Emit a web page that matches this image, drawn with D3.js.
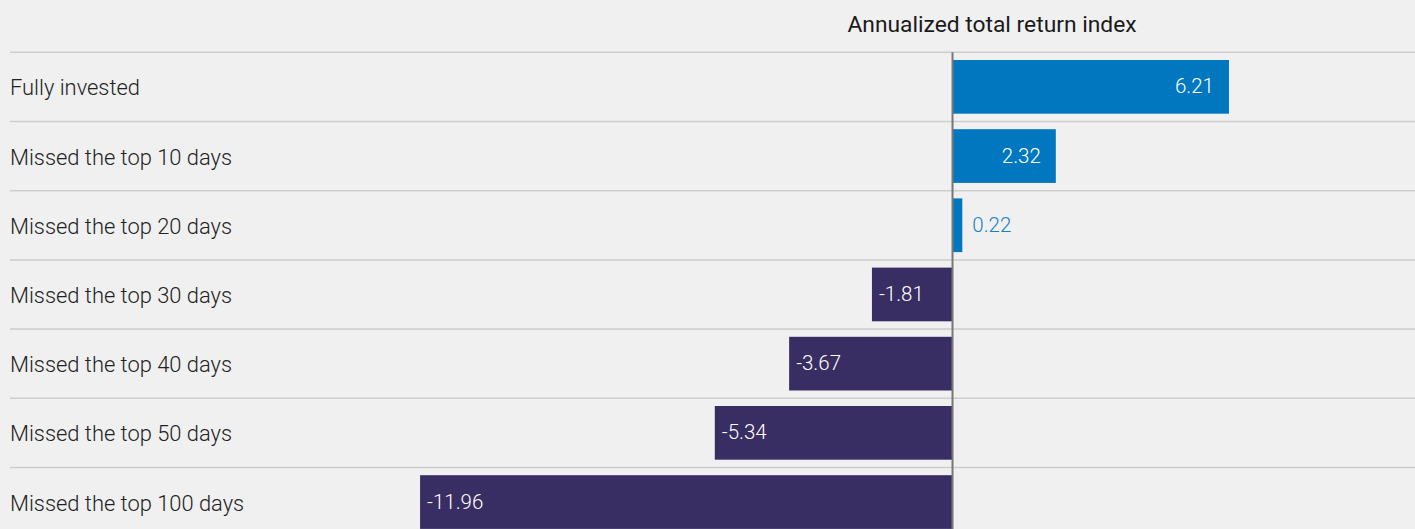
<!DOCTYPE html>
<html>
<head>
<meta charset="utf-8">
<script src="https://cdn.jsdelivr.net/npm/d3@7"></script>
<style>
  html, body { margin: 0; padding: 0; background: #f0f0f0; }
  svg { display: block; font-family: Roboto, "Liberation Sans", Arial, sans-serif; font-weight: 300; }
</style>
</head>
<body>
<svg id="chart"></svg>
<script>
const categories = [
    'Fully invested',
    'Missed the top 10 days',
    'Missed the top 20 days',
    'Missed the top 30 days',
    'Missed the top 40 days',
    'Missed the top 50 days',
    'Missed the top 100 days'
];
const returns = [6.21, 2.32, 0.22, -1.81, -3.67, -5.34, -11.96];
const axisTitle = 'Annualized total return index';

const width = 1415, height = 529;
const svg = d3.select('#chart').attr('width', width).attr('height', height);

svg.append('rect').attr('width', width).attr('height', height).attr('fill', '#f0f0f0');

const data = categories.map((c, i) => ({ label: c, value: returns[i] }));

const x = d3.scaleLinear().domain([-12, 10]).range([418.3, 1397.7]);
const y = d3.scaleBand().domain(categories).range([52.3, 52.3 + 69.2 * categories.length]);

// title
svg.append('text')
    .attr('x', 992)
    .attr('y', 32)
    .attr('text-anchor', 'middle')
    .attr('font-size', 22.8)
    .attr('font-weight', 400)
    .attr('fill', '#1a1a1a')
    .text(axisTitle);

// row separators
svg.selectAll('.sep')
    .data(categories)
    .join('line')
    .attr('class', 'sep')
    .attr('x1', 10).attr('x2', width)
    .attr('y1', d => y(d)).attr('y2', d => y(d))
    .attr('stroke', '#cdcdcd')
    .attr('stroke-width', 1.5);

// category labels
svg.selectAll('.cat')
    .data(data)
    .join('text')
    .attr('class', 'cat')
    .attr('x', 10)
    .attr('y', d => y(d.label) + y.bandwidth() / 2 + 8.5)
    .attr('font-size', 21.9)
    .attr('fill', '#222')
    .text(d => d.label);

// bars
const barTop = 7.7, barPad = 15.5;
svg.selectAll('.bar')
    .data(data)
    .join('rect')
    .attr('class', 'bar')
    .attr('x', d => x(Math.min(0, d.value)))
    .attr('width', d => Math.abs(x(d.value) - x(0)))
    .attr('y', d => y(d.label) + barTop)
    .attr('height', y.bandwidth() - barPad)
    .attr('fill', d => d.value >= 0 ? '#0077be' : '#392e63');

// zero line
svg.append('line')
    .attr('x1', x(0)).attr('x2', x(0))
    .attr('y1', y.range()[0]).attr('y2', height)
    .attr('stroke', '#777')
    .attr('stroke-width', 2);

// value labels
const inside = d => d.value < 0 || Math.abs(x(d.value) - x(0)) >= 60;
svg.selectAll('.val')
    .data(data)
    .join('text')
    .attr('class', 'val')
    .attr('y', d => y(d.label) + barTop + (y.bandwidth() - barPad) / 2 + 6.5)
    .attr('font-size', 20.5)
    .attr('x', d => {
        if (d.value < 0) return x(d.value) + 7;
        return inside(d) ? x(d.value) - 15 : x(d.value) + 10;
    })
    .attr('text-anchor', d => (d.value >= 0 && inside(d)) ? 'end' : 'start')
    .attr('fill', d => inside(d) ? '#fff' : '#1a80c4')
    .text(d => d.value.toFixed(2));
</script>
</body>
</html>
